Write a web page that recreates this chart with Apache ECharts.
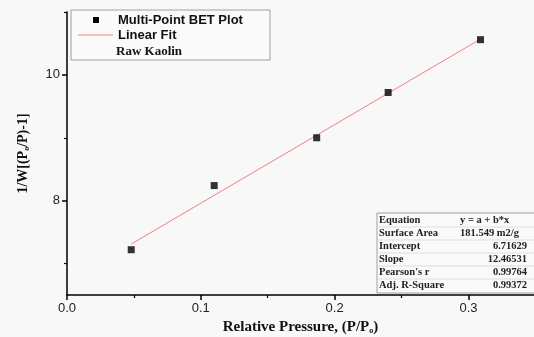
<!DOCTYPE html>
<html>
<head>
<meta charset="utf-8">
<script src="https://cdn.jsdelivr.net/npm/echarts@6/dist/echarts.min.js"></script>
<style>
  html, body { margin: 0; padding: 0; background: #fff; }
  #main { width: 534px; height: 337px; }
</style>
</head>
<body>
<div id="main"></div>
<script>
// measured points (relative pressure vs 1/W[(Po/P)-1])
var pressure = [0.048, 0.110, 0.1866, 0.240, 0.309];
var betValues = [7.22, 8.24, 9.00, 9.72, 10.56];
// linear fit line ends
var fitX = [0.048, 0.309];
var fitY = [7.31, 10.57];
var xTicks = [0, 0.1, 0.2, 0.3];
var xMinorTicks = [0.05, 0.15, 0.25];
var yTicks = [8, 10];
var yMinorTicks = [7, 9, 11];
var statNames = ['Equation', 'Surface Area', 'Intercept', 'Slope', "Pearson's r", 'Adj. R-Square'];
var statValues = ['y = a + b*x', '181.549 m2/g', '6.71629', '12.46531', '0.99764', '0.99372'];

var myChart = echarts.init(document.getElementById('main'));

var serif = '"Liberation Serif", "DejaVu Serif", serif';
var sans = '"Liberation Sans", Arial, sans-serif';

// stats box drawn with graphic elements
var tableGraphics = [];
var tX = 377, tY = 213, rowH = 13;
tableGraphics.push({
    type: 'rect', shape: {x: tX, y: tY, width: 160, height: rowH * 6 + 2},
    style: {fill: '#fafafa', stroke: '#888', lineWidth: 0.8}, z: 10
});
statNames.forEach(function (n, i) {
    var cy = tY + rowH * i + rowH / 2 + 1;
    if (i > 0) {
        tableGraphics.push({
            type: 'line', shape: {x1: tX, y1: tY + rowH * i + 1, x2: 534, y2: tY + rowH * i + 1},
            style: {stroke: '#ccc', lineWidth: 0.6}, z: 11
        });
    }
    tableGraphics.push({
        type: 'text', x: tX + 2, y: cy, z: 12,
        style: {text: n, font: 'bold 10.5px ' + serif, fill: '#222', verticalAlign: 'middle'}
    });
    var alignLeft = i < 2;
    tableGraphics.push({
        type: 'text', x: alignLeft ? 460 : 527, y: cy, z: 12,
        style: {text: statValues[i], font: 'bold 10.5px ' + serif, fill: '#222',
            verticalAlign: 'middle', align: alignLeft ? 'left' : 'right'}
    });
});

var legendGraphics = [
    {type: 'rect', shape: {x: 71, y: 10, width: 199, height: 50},
        style: {fill: '#fafafa', stroke: '#888', lineWidth: 0.8}, z: 10},
    {type: 'rect', shape: {x: 93, y: 17, width: 6, height: 6}, style: {fill: '#000'}, z: 11},
    {type: 'text', x: 118, y: 20, z: 11,
        style: {text: 'Multi-Point BET Plot', font: 'bold 13px ' + sans, fill: '#111', verticalAlign: 'middle'}},
    {type: 'line', shape: {x1: 78, y1: 35, x2: 113, y2: 35}, style: {stroke: '#f08080', lineWidth: 1}, z: 11},
    {type: 'text', x: 118, y: 35, z: 11,
        style: {text: 'Linear Fit', font: 'bold 13px ' + sans, fill: '#111', verticalAlign: 'middle'}},
    {type: 'text', x: 116, y: 52, z: 11,
        style: {text: 'Raw Kaolin', font: 'bold 13px ' + serif, fill: '#111', verticalAlign: 'middle'}}
];

var nameRich = function (size) {
    return {
        t: {fontFamily: serif, fontWeight: 'bold', fontSize: size, color: '#111'},
        s: {fontFamily: serif, fontWeight: 'bold', fontSize: 8, color: '#111', padding: [7, 0, 0, 0]}
    };
};

var option = {
    backgroundColor: '#f8f8f8',
    animation: false,
    grid: {left: 67, right: 0, top: 12, bottom: 42, outerBoundsMode: 'none', containLabel: false},
    xAxis: [
        {
            type: 'value', min: 0, max: 0.349,
            name: '{t|Relative Pressure, (P/P}{s|o}{t|)}',
            nameLocation: 'middle', nameGap: 25,
            nameTextStyle: {rich: nameRich(15)},
            axisLine: {lineStyle: {color: '#000', width: 1.5}},
            axisTick: {customValues: xTicks, length: 5, lineStyle: {color: '#000', width: 1.5}},
            axisLabel: {customValues: xTicks, color: '#222', fontSize: 13, fontFamily: sans, margin: 7,
                formatter: function (v) { return v.toFixed(1); }},
            splitLine: {show: false}
        },
        {
            type: 'value', min: 0, max: 0.349, position: 'bottom',
            axisLine: {show: false},
            axisTick: {customValues: xMinorTicks, length: 3, lineStyle: {color: '#000', width: 1.2}},
            axisLabel: {show: false},
            splitLine: {show: false}
        }
    ],
    yAxis: [
        {
            type: 'value', min: 6.5, max: 11,
            name: '{t|1/W[(P}{s|o}{t|/P)-1]}',
            nameLocation: 'middle', nameGap: 36,
            nameTextStyle: {rich: nameRich(14)},
            axisLine: {lineStyle: {color: '#000', width: 1.5}},
            axisTick: {customValues: yTicks, length: 5, lineStyle: {color: '#000', width: 1.5}},
            axisLabel: {customValues: yTicks, color: '#222', fontSize: 13, fontFamily: sans, margin: 7},
            splitLine: {show: false}
        },
        {
            type: 'value', min: 6.5, max: 11, position: 'left',
            axisLine: {show: false},
            axisTick: {customValues: yMinorTicks, length: 3, lineStyle: {color: '#000', width: 1.2}},
            axisLabel: {show: false},
            splitLine: {show: false}
        }
    ],
    series: [
        {
            name: 'Linear Fit', type: 'line',
            data: fitX.map(function (x, i) { return [x, fitY[i]]; }),
            symbol: 'none', lineStyle: {color: '#f08080', width: 1}, z: 2
        },
        {
            name: 'Multi-Point BET Plot', type: 'scatter',
            data: pressure.map(function (x, i) { return [x, betValues[i]]; }),
            symbol: 'rect', symbolSize: 7, itemStyle: {color: '#000'}, z: 3
        }
    ],
    graphic: legendGraphics.concat(tableGraphics)
};
myChart.setOption(option);
</script>
</body>
</html>
